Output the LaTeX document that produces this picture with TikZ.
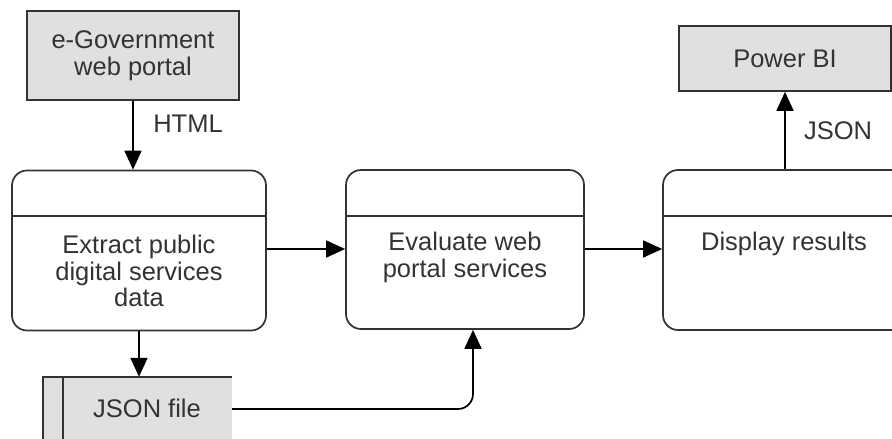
\documentclass[tikz,border=0pt]{standalone}
\usepackage{fontspec}
\setmainfont{Liberation Sans}
\usetikzlibrary{arrows.meta,calc}
\definecolor{ink}{HTML}{333333}
\definecolor{boxgray}{HTML}{E0E0E0}
\tikzset{
  base/.style={font=\fontsize{25.5}{26.5}\selectfont, text=ink},
  srcbox/.style={draw=ink, line width=1.7pt, fill=boxgray, align=center, inner sep=0pt, base},
  procbox/.style={draw=ink, line width=1.7pt, rounded corners=15pt, inner sep=0pt},
  txt/.style={base, align=center, inner sep=0pt},
  arr/.style={draw=black, line width=1.7pt, -{Triangle[length=19pt,width=17pt]}},
  divider/.style={draw=ink, line width=1.7pt}
}
\begin{document}
\begin{tikzpicture}[x=1pt,y=-1pt]
\useasboundingbox (0,0) rectangle (892,439);
\clip (0,0) rectangle (892,439);
% source boxes
\node[srcbox, minimum width=212pt, minimum height=89pt] (egov) at (133,55.5) {e-Government\\web portal};
\node[srcbox, minimum width=212pt, minimum height=65pt] (pbi) at (785,58.5) {Power BI};
% process boxes
\node[procbox, minimum width=254pt, minimum height=160pt] (extract) at (139,250.5) {};
\node[procbox, minimum width=238pt, minimum height=159pt] (eval) at (465,249.5) {};
\node[procbox, minimum width=244pt, minimum height=160pt] (disp) at (785,250) {};
\draw[divider] (extract.west |- 0,216) -- (extract.east |- 0,216);
\draw[divider] (eval.west |- 0,216) -- (eval.east |- 0,216);
\draw[divider] (disp.west |- 0,216) -- (disp.east |- 0,216);
\node[txt] (extractt) at (139,271) {Extract public\\digital services\\data};
\node[txt] (evalt) at (465,257.5) {Evaluate web\\portal services};
\node[txt] (dispt) at (784,244) {Display results};
% JSON file store
\node[fill=boxgray, minimum width=189pt, minimum height=64pt, inner sep=0pt] (jfile) at (137.5,409) {};
\node[txt] (jfilet) at (147,408) {JSON file};
\draw[divider] (jfile.south west) -- (jfile.north west) -- (jfile.north east);
\draw[divider] ([xshift=20pt]jfile.north west) -- ([xshift=20pt]jfile.south west);
% connectors
\draw[arr] (egov.south) -- (egov.south |- extract.north);
\node[txt] (html) at (188,124) {HTML};
\draw[arr] (extract.east |- 0,249) -- (eval.west |- 0,249);
\draw[arr] (eval.east |- 0,249) -- (disp.west |- 0,249);
\draw[arr] (disp.north) -- (pbi.south);
\node[txt] (json) at (838,131) {JSON};
\draw[arr] (extract.south) -- (extract.south |- jfile.north);
\coordinate (evin) at ([xshift=8pt]eval.south);
\draw[arr, rounded corners=15pt] (jfile.east) -| (evin);
\end{tikzpicture}
\end{document}
